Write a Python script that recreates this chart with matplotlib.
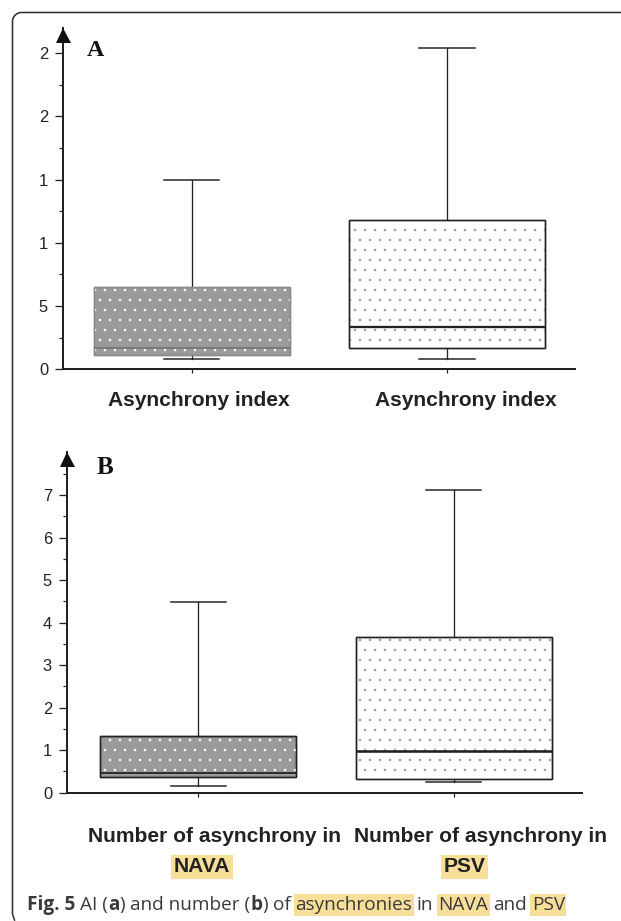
import matplotlib
matplotlib.use('Agg')
import matplotlib.pyplot as plt
from matplotlib.patches import PathPatch
from matplotlib.lines import Line2D
from matplotlib.ticker import FixedLocator
import matplotlib.transforms as mtransforms
import numpy as np

W, H = 621, 921
DPI = 120
plt.rcParams['hatch.linewidth'] = 0.35

def pt(px):
    return px * 72.0 / DPI

def fx(px):
    return px / W

def fy(py):
    return 1 - py / H

# ---------------- data ----------------
groups = ['NAVA', 'PSV']
positions = [1, 2]

# Panel A: asynchrony index
ai_whislo = [0.81, 0.81]
ai_q1 = [1.11, 1.66]
ai_med = [1.71, 3.35]
ai_q3 = [6.49, 11.81]
ai_whishi = [14.98, 25.4]
ai_ticks = [0, 5, 10, 15, 20, 25]
ai_ticklabels = ['0', '5', '1', '1', '2', '2']
ai_xlabels = ['Asynchrony index', 'Asynchrony index']

# Panel B: number of asynchrony
na_whislo = [0.16, 0.24]
na_q1 = [0.36, 0.32]
na_med = [0.46, 0.99]
na_q3 = [1.33, 3.66]
na_whishi = [4.49, 7.12]
na_ticks = [0, 1, 2, 3, 4, 5, 6, 7]
na_ticklabels = ['0', '1', '2', '3', '4', '5', '6', '7']
na_xlabels = ['Number of asynchrony in', 'Number of asynchrony in']

caption_parts = [
    ('Fig. 5', 'bold', False), (' ', 'normal', False),
    ('AI (', 'normal', False), ('a', 'bold', False), (')', 'normal', False),
    (' ', 'normal', False), ('and number (', 'normal', False), ('b', 'bold', False),
    (')', 'normal', False), (' ', 'normal', False), ('of', 'normal', False),
    (' ', 'normal', False), ('asynchronies', 'normal', True), (' ', 'normal', False),
    ('in', 'normal', False), (' ', 'normal', False), ('NAVA', 'normal', True),
    (' ', 'normal', False), ('and', 'normal', False), (' ', 'normal', False),
    ('PSV', 'normal', True),
]

HL = '#f7df9a'
DARK = '#222222'

fig = plt.figure(figsize=(W / DPI, H / DPI), dpi=DPI)
fig.patch.set_facecolor('white')


def make_axes(left, right, top, bottom):
    return fig.add_axes([fx(left), fy(bottom), (right - left) / W, (bottom - top) / H])


def panel(ax, whislo, q1, med, q3, whishi, ylim_top, xlim, ticks, ticklabels,
          styles):
    stats = []
    for i in range(len(groups)):
        stats.append(dict(med=med[i], q1=q1[i], q3=q3[i], whislo=whislo[i],
                          whishi=whishi[i], fliers=[]))
    bp = ax.bxp(stats, positions=positions, widths=0.766, capwidths=0.216,
                patch_artist=True, showfliers=False)
    for i, box in enumerate(bp['boxes']):
        st = styles[i]
        box.set_facecolor(st['face'])
        box.set_edgecolor(st['edge'])
        box.set_linewidth(pt(1.4))
        box.set_zorder(2)
        hatch = PathPatch(box.get_path(), transform=box.get_transform(),
                          facecolor='none', edgecolor=st['dots'], lw=0,
                          hatch='..', zorder=2.05)
        ax.add_patch(hatch)
        outline = PathPatch(box.get_path(), transform=box.get_transform(),
                            facecolor='none', edgecolor=st['edge'], lw=pt(1.4),
                            zorder=2.1)
        ax.add_patch(outline)
        bp['medians'][i].set_color(st['median'])
        bp['medians'][i].set_linewidth(st['mlw'])
        bp['medians'][i].set_zorder(2.2)
    for j, wl in enumerate(bp['whiskers']):
        wl.set_color(DARK)
        wl.set_linewidth(pt(1.3))
        wl.set_zorder(1.9)
    for c in bp['caps']:
        c.set_color(DARK)
        c.set_linewidth(pt(1.5))

    ax.set_xlim(*xlim)
    ax.set_ylim(0, ylim_top)
    for s in ['top', 'right']:
        ax.spines[s].set_visible(False)
    for s in ['left', 'bottom']:
        ax.spines[s].set_color(DARK)
        ax.spines[s].set_linewidth(pt(2.0))
    ax.set_facecolor('none')
    ax.yaxis.set_major_locator(FixedLocator(ticks))
    ax.set_yticklabels(ticklabels, fontsize=pt(16.5), family='Liberation Sans',
                       color=DARK)
    # minor ticks halfway between the major ticks
    step = ticks[1] - ticks[0]
    minors = [t + step / 2 for t in ticks if t + step / 2 < ylim_top - step * 0.3]
    ax.yaxis.set_minor_locator(FixedLocator(minors))
    ax.tick_params(axis='y', which='major', length=pt(8), width=pt(1.3),
                   direction='out', pad=pt(7), color=DARK)
    ax.tick_params(axis='y', which='minor', length=pt(4.5), width=pt(1.2),
                   direction='out', color=DARK)
    ax.set_xticks(positions)
    ax.set_xticklabels(['', ''])
    ax.tick_params(axis='x', length=pt(4), width=pt(1.2), direction='out',
                   color=DARK)
    # arrow head on top of the y axis
    tr = mtransforms.offset_copy(ax.transAxes, fig=fig, x=0, y=-pt(7),
                                 units='points')
    ax.plot([0], [1], marker='^', markersize=pt(15), color='#111111',
            markeredgewidth=0, transform=tr, clip_on=False, zorder=5)


axA = make_axes(63, 575, 28, 369.3)
panel(axA, ai_whislo, ai_q1, ai_med, ai_q3, ai_whishi, 27.0, (0.496, 2.501),
      ai_ticks, ai_ticklabels,
      [dict(face='#9a9a9a', edge='#8a8a8a', median='#737373', mlw=pt(1.6), dots='white'),
       dict(face='white', edge=DARK, median=DARK, mlw=pt(2.3), dots='#9a9a9a')])

axB = make_axes(67, 581.7, 451.7, 792.7)
panel(axB, na_whislo, na_q1, na_med, na_q3, na_whishi, 8.02, (0.486, 2.501),
      na_ticks, na_ticklabels,
      [dict(face='#9a9a9a', edge=DARK, median=DARK, mlw=pt(1.8), dots='white'),
       dict(face='white', edge=DARK, median=DARK, mlw=pt(2.6), dots='#9a9a9a')])

# panel letters
fig.text(fx(95), fy(51), 'A', family='Liberation Serif', weight='bold',
         fontsize=pt(24), ha='center', va='center', color='#111111')
fig.text(fx(105), fy(467), 'B', family='Liberation Serif', weight='bold',
         fontsize=pt(25), ha='center', va='center', color='#111111')

# x labels
lab_kw = dict(family='Liberation Sans', weight='bold', fontsize=pt(21),
              ha='center', va='center', color=DARK)
for xc, s in zip([199, 466], ai_xlabels):
    fig.text(fx(xc), fy(401), s, **lab_kw)
for xc, s in zip([215, 480.5], na_xlabels):
    fig.text(fx(xc), fy(837), s, **lab_kw)
for xc, s in zip([202, 464.7], groups):
    fig.text(fx(xc), fy(867), s,
             bbox=dict(facecolor=HL, edgecolor='none', pad=pt(2.5)), **lab_kw)

# frame
r = 9
ang = np.linspace(np.pi / 2, np.pi, 12)
xs = [W + 5, 12.5 + r] + list(12.5 + r + r * np.cos(ang)) + [12.5, 12.5, 14.5]
ys = [12.5, 12.5] + list(12.5 + r - r * np.sin(ang)) + [12.5 + r, 914, 920]
fig.add_artist(Line2D([fx(v) for v in xs], [fy(v) for v in ys], color='#333333',
                      lw=pt(1.6), transform=fig.transFigure))

# caption
fig.canvas.draw()
renderer = fig.canvas.get_renderer()
cap_fs = pt(19)
cap_family = 'Open Sans'
probe1 = fig.text(0, 0, 'x x', fontsize=cap_fs, family=cap_family)
probe2 = fig.text(0, 0, 'xx', fontsize=cap_fs, family=cap_family)
space_w = (probe1.get_window_extent(renderer).width -
           probe2.get_window_extent(renderer).width)
probe1.remove()
probe2.remove()
xcur = 27.0
for txt, wt, hl in caption_parts:
    if txt == ' ':
        xcur += space_w
        continue
    kw = dict(fontsize=cap_fs, family=cap_family, weight=wt, color='#3a3a3a',
              ha='left', va='baseline')
    if hl:
        kw['bbox'] = dict(facecolor=HL, edgecolor='none', pad=pt(1.5))
    t = fig.text(fx(xcur), fy(910), txt, **kw)
    w = t.get_window_extent(renderer).width
    xcur += w

fig.savefig('out.png', dpi=DPI)
